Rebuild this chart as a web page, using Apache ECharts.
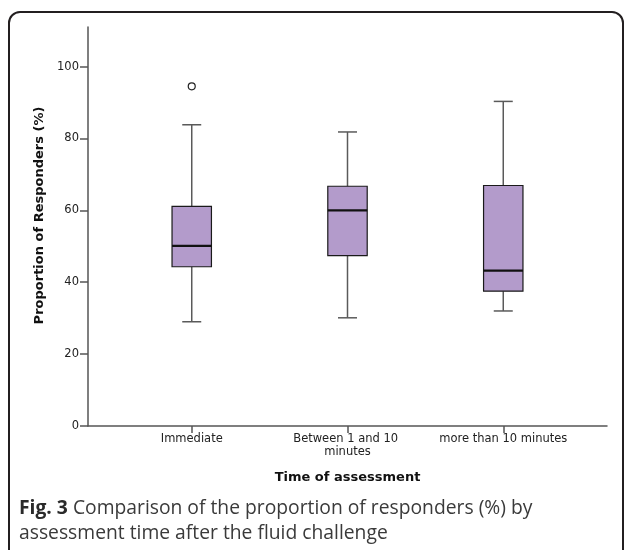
<!DOCTYPE html>
<html lang="en">
<head>
    <meta charset="UTF-8">
    <title>Proportion of responders by assessment time</title>
    <style>
        html, body { margin: 0; padding: 0; background: #fff; }
        #chart { width: 627px; height: 550px; }
    </style>
</head>
<body>
<div id="chart"></div>
<script src="https://cdn.jsdelivr.net/npm/echarts@6/dist/echarts.min.js"></script>
<script>
    // groups on the x axis
    var categories = ['Immediate', 'Between 1 and 10 minutes', 'more than 10 minutes'];
    // box summary per group: lower whisker, Q1, median, Q3, upper whisker
    var lowWhisker = [29.0, 30.1, 32.0];
    var q1 = [44.3, 47.4, 37.5];
    var median = [50.1, 60.0, 43.2];
    var q3 = [61.1, 66.7, 66.9];
    var highWhisker = [83.8, 81.8, 90.3];
    // outliers: [group index, value]
    var outliers = [[0, 94.5]];
    var yTicks = [0, 20, 40, 60, 80, 100];

    var boxData = categories.map(function (c, i) {
        return [i + 1, lowWhisker[i], q1[i], median[i], q3[i], highWhisker[i]];
    });
    var outlierData = outliers.map(function (o) { return [o[0] + 1, o[1]]; });

    function renderBox(params, api) {
        var x = api.value(0);
        var lo = api.coord([x, api.value(1)]);
        var b1 = api.coord([x, api.value(2)]);
        var md = api.coord([x, api.value(3)]);
        var b3 = api.coord([x, api.value(4)]);
        var hi = api.coord([x, api.value(5)]);
        var halfBox = api.size([0.253, 0])[0] / 2;
        var halfCap = api.size([0.122, 0])[0] / 2;
        var cx = lo[0];
        var whisker = { stroke: '#5a5a5a', lineWidth: 1.5 };
        return {
            type: 'group',
            children: [
                { type: 'line', shape: { x1: cx, y1: lo[1], x2: cx, y2: b1[1] }, style: whisker },
                { type: 'line', shape: { x1: cx, y1: b3[1], x2: cx, y2: hi[1] }, style: whisker },
                { type: 'line', shape: { x1: cx - halfCap, y1: lo[1], x2: cx + halfCap, y2: lo[1] }, style: whisker },
                { type: 'line', shape: { x1: cx - halfCap, y1: hi[1], x2: cx + halfCap, y2: hi[1] }, style: whisker },
                {
                    type: 'rect',
                    shape: { x: cx - halfBox, y: b3[1], width: halfBox * 2, height: b1[1] - b3[1] },
                    style: { fill: '#b39bcb', stroke: '#1a1a1a', lineWidth: 1.2 }
                },
                { type: 'line', shape: { x1: cx - halfBox, y1: md[1], x2: cx + halfBox, y2: md[1] }, style: { stroke: '#111', lineWidth: 2.2 } }
            ]
        };
    }

    var chart = echarts.init(document.getElementById('chart'));
    chart.setOption({
        animation: false,
        backgroundColor: '#fff',
        textStyle: { fontFamily: 'DejaVu Sans' },
        graphic: [{
            type: 'rect',
            shape: { x: 9, y: 12, width: 614, height: 580, r: 11 },
            style: { fill: 'none', stroke: '#231f20', lineWidth: 2 },
            z: -1
        }],
        title: {
            left: 14,
            top: 491,
            text: '{b|Fig. 3} Comparison of the proportion of responders (%) by\nassessment time after the fluid challenge',
            textStyle: {
                fontFamily: 'Open Sans',
                fontSize: 19.3,
                fontWeight: 'normal',
                color: '#3a3a3a',
                lineHeight: 25,
                rich: {
                    b: { fontFamily: 'Open Sans', fontSize: 19.3, fontWeight: 'bold', color: '#2a2a2a', lineHeight: 25 }
                }
            }
        },
        grid: { left: 88, top: 27, right: 20, bottom: 124 },
        xAxis: {
            type: 'value',
            min: 0.334,
            max: 3.666,
            name: 'Time of assessment',
            nameLocation: 'middle',
            nameGap: 45,
            nameTextStyle: { fontSize: 13, fontWeight: 'bold', color: '#111' },
            splitLine: { show: false },
            axisLine: { show: true, lineStyle: { color: '#555', width: 1.5 } },
            axisTick: { show: true, customValues: [1, 2, 3], length: 7, lineStyle: { color: '#555', width: 1.5 } },
            axisLabel: {
                customValues: [1, 2, 3],
                margin: 7,
                fontSize: 11.5,
                color: '#222',
                width: 140,
                overflow: 'break',
                lineHeight: 13,
                formatter: function (v) { return categories[Math.round(v) - 1]; }
            }
        },
        yAxis: {
            type: 'value',
            min: 0,
            max: 111,
            name: 'Proportion of Responders (%)',
            nameLocation: 'middle',
            nameGap: 40,
            nameTextStyle: { fontSize: 13, fontWeight: 'bold', color: '#111', padding: [0, 0, 0, 22] },
            splitLine: { show: false },
            axisLine: { show: true, lineStyle: { color: '#555', width: 1.5 } },
            axisTick: { show: true, customValues: yTicks, length: 8, lineStyle: { color: '#555', width: 1.5 } },
            axisLabel: { customValues: yTicks, margin: 9, fontSize: 11.5, color: '#222' }
        },
        series: [{
            type: 'custom',
            renderItem: renderBox,
            encode: { x: 0, y: [1, 2, 3, 4, 5] },
            data: boxData
        }, {
            type: 'scatter',
            symbol: 'circle',
            symbolSize: 7,
            itemStyle: { color: '#fff', borderColor: '#222', borderWidth: 1.2, opacity: 1 },
            data: outlierData
        }]
    });
</script>
</body>
</html>
